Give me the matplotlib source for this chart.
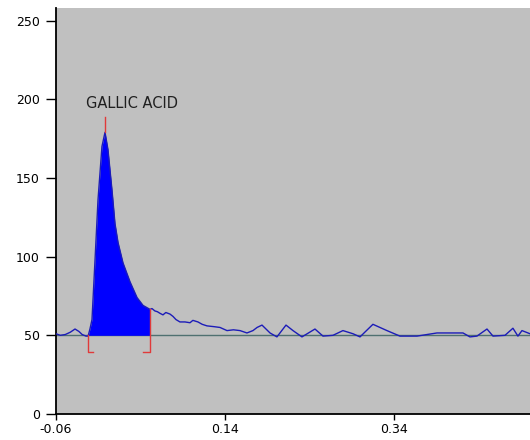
import numpy as np
import matplotlib
matplotlib.use('Agg')
import matplotlib.pyplot as plt

# chromatogram trace (retention, signal)
trace_x = [-0.060, -0.055, -0.049, -0.043, -0.0375, -0.033, -0.029, -0.0245, -0.022,
           -0.0198, -0.0174, -0.0138, -0.0103, -0.0056, -0.002, 0.0015, 0.0063, 0.0098,
           0.0134, 0.0193, 0.0276, 0.0359, 0.043, 0.0512, 0.0536, 0.057, 0.060, 0.063,
           0.0666, 0.070, 0.0749, 0.0785, 0.082, 0.0867, 0.0927, 0.0986, 0.102, 0.108,
           0.113, 0.1187, 0.127, 0.1341, 0.1424, 0.150, 0.1578, 0.166, 0.1731, 0.178,
           0.1838, 0.1933, 0.2015, 0.2122, 0.2205, 0.2311, 0.2465, 0.256, 0.2678, 0.2796,
           0.2915, 0.2998, 0.3151, 0.3317, 0.3471, 0.3672, 0.3909, 0.4217, 0.4299, 0.4382,
           0.4501, 0.4572, 0.4714, 0.4808, 0.4867, 0.4915, 0.501]
trace_y = [51, 50, 50.5, 52, 54, 52.5, 50.5, 49.5, 49.5,
           54, 60, 98, 136, 170, 179, 168, 142, 121,
           109, 96, 84, 74, 69, 66.5, 67, 65.5, 65, 64,
           63, 64.5, 63.5, 62, 60, 58.5, 58.5, 58, 59.5, 58.5,
           57, 56, 55.5, 55, 53, 53.5, 53, 51.5, 53, 55,
           56.5, 51.5, 49, 56.5, 53, 49, 54, 49.5, 50, 53,
           51, 49, 57, 53, 49.5, 49.5, 51.5, 51.5, 49, 49.5,
           54, 49.5, 50, 54.5, 49.5, 53, 51]

baseline = 50
peak_start, peak_end = -0.022, 0.0512
peak_apex, apex_height = -0.002, 179
peak_name = 'GALLIC ACID'

y_ticks = [0, 50, 100, 150, 200, 250]
x_ticks = [-0.06, 0.14, 0.34]

fig = plt.figure(figsize=(5.3, 4.4), dpi=100)
ax = fig.add_axes([56 / 530, 26 / 440, 474 / 530, 406 / 440])
ax.set_facecolor('#c0c0c0')

x = np.array(trace_x)
y = np.array(trace_y)

ax.axhline(baseline, color='#4f7070', lw=1.0, zorder=2)
inside = (x >= peak_start) & (x <= peak_end)
ax.fill_between(x, baseline, y, where=inside, color='#0000ff', lw=0, zorder=3)
ax.plot(x, y, color='#1c1cb8', lw=1.0, zorder=4)

# integration marks
red = '#e03a3a'
ax.plot([peak_start, peak_start, peak_start + 0.006], [baseline, 39.5, 39.5], color=red, lw=1.0, zorder=5)
ax.plot([peak_end, peak_end, peak_end - 0.008], [66.5, 39.5, 39.5], color=red, lw=1.0, zorder=5)
ax.plot([peak_apex, peak_apex], [apex_height, 189], color=red, lw=1.0, zorder=5)
ax.text(0.0305, 197.5, peak_name, ha='center', va='center', fontsize=10.5, color='#202020')

ax.set_xlim(-0.06, 0.501)
ax.set_ylim(0, 258)
ax.set_xticks(x_ticks)
ax.set_xticklabels(['-0.06', '0.14', '0.34'])
ax.set_yticks(y_ticks)
ax.tick_params(axis='y', length=7.5, width=1, pad=4, labelsize=9)
ax.tick_params(axis='x', length=4.5, width=1, pad=2, labelsize=9)
for s in ['top', 'right']:
    ax.spines[s].set_visible(False)
for s in ['left', 'bottom']:
    ax.spines[s].set_linewidth(1.3)

fig.savefig('out.png', dpi=100)
